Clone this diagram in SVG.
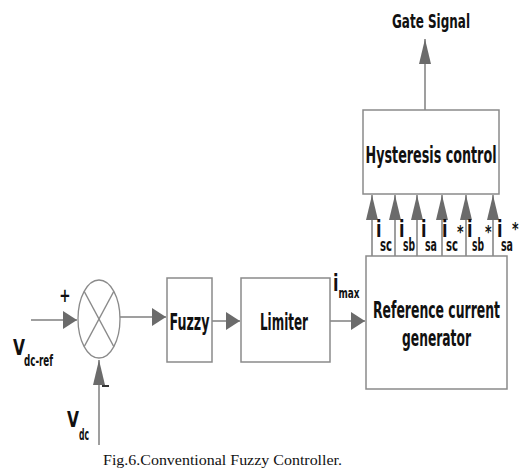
<svg xmlns="http://www.w3.org/2000/svg" width="521" height="470" viewBox="0 0 521 470">
<style>
.box{fill:#fff;stroke:#8a8a8a;stroke-width:1.5}
.ln{fill:none;stroke:#7f7f7f;stroke-width:1.5}
.t{font-family:"DejaVu Sans","Verdana",sans-serif;font-weight:bold;font-stretch:condensed;fill:#111}
.m{text-anchor:middle}
.cap{font-family:"Liberation Serif","Times New Roman",serif;font-size:15.5px;fill:#111}
</style>
<defs>
<marker id="ah" markerUnits="userSpaceOnUse" markerWidth="16" markerHeight="20" refX="14" refY="9" orient="auto">
<path d="M0,0 L14,9 L0,18 z" fill="#6b6b6b"/>
</marker>
<marker id="av" markerUnits="userSpaceOnUse" markerWidth="27" markerHeight="14" refX="25" refY="6" orient="auto">
<path d="M0,0 L25,6 L0,12 z" fill="#6b6b6b"/>
</marker>
</defs>
<rect width="521" height="470" fill="#fff"/>

<g id="connectors">
<line class="ln" x1="31" y1="320" x2="77" y2="320" marker-end="url(#ah)"/>
<line class="ln" x1="99" y1="445" x2="99" y2="360" marker-end="url(#av)"/>
<line class="ln" x1="120" y1="317" x2="166" y2="317" marker-end="url(#ah)"/>
<line class="ln" x1="212" y1="321" x2="240" y2="321" marker-end="url(#ah)"/>
<line class="ln" x1="330" y1="321" x2="365" y2="321" marker-end="url(#ah)"/>
<line class="ln" x1="425" y1="110" x2="425" y2="39" marker-end="url(#av)"/>
<line class="ln" x1="372" y1="256" x2="372" y2="195" marker-end="url(#av)"/>
<line class="ln" x1="395" y1="256" x2="395" y2="195" marker-end="url(#av)"/>
<line class="ln" x1="417" y1="256" x2="417" y2="195" marker-end="url(#av)"/>
<line class="ln" x1="442" y1="256" x2="442" y2="195" marker-end="url(#av)"/>
<line class="ln" x1="466" y1="256" x2="466" y2="195" marker-end="url(#av)"/>
<line class="ln" x1="493" y1="256" x2="493" y2="195" marker-end="url(#av)"/>
</g>

<g id="sum">
<ellipse cx="99" cy="319" rx="21" ry="39" fill="#fff" stroke="#8a8a8a" stroke-width="1.3"/>
<line x1="84.2" y1="291.4" x2="113.8" y2="346.6" stroke="#8a8a8a" stroke-width="1.3"/>
<line x1="113.8" y1="291.4" x2="84.2" y2="346.6" stroke="#8a8a8a" stroke-width="1.3"/>
<text class="t" font-size="15" transform="translate(65,302) scale(1,1.3)" text-anchor="middle">+</text>
<line x1="102" y1="386" x2="109" y2="386" stroke="#333" stroke-width="2"/>
</g>

<g id="vdcref">
<text class="t" font-size="15" transform="translate(13,355) scale(1,1.4)" textLength="12" lengthAdjust="spacingAndGlyphs">V</text>
<text class="t" font-size="9.5" transform="translate(24,366) scale(1,1.6)" textLength="29" lengthAdjust="spacingAndGlyphs">dc-ref</text>
</g>

<g id="vdc">
<text class="t" font-size="15" transform="translate(67,427) scale(1,1.4)" textLength="12" lengthAdjust="spacingAndGlyphs">V</text>
<text class="t" font-size="9.5" transform="translate(79,440) scale(1,1.6)" textLength="10" lengthAdjust="spacingAndGlyphs">dc</text>
</g>

<g id="fuzzy">
<rect class="box" x="167" y="278" width="45" height="84"/>
<text class="t m" font-size="13" transform="translate(189.5,330) scale(1,1.75)" textLength="40" lengthAdjust="spacingAndGlyphs">Fuzzy</text>
</g>

<g id="limiter">
<rect class="box" x="241" y="278" width="89" height="84"/>
<text class="t m" font-size="13" transform="translate(284,330) scale(1,1.75)" textLength="48" lengthAdjust="spacingAndGlyphs">Limiter</text>
</g>

<g id="imax">
<text class="t" font-size="14" transform="translate(333,291) scale(1,1.7)" textLength="5.5" lengthAdjust="spacingAndGlyphs">i</text>
<text class="t" font-size="9.5" transform="translate(338.5,298) scale(1,1.5)" textLength="21" lengthAdjust="spacingAndGlyphs">max</text>
</g>

<g id="refgen">
<rect class="box" x="366" y="256" width="141" height="133"/>
<text class="t m" font-size="13" transform="translate(436.5,318) scale(1,1.7)" textLength="127" lengthAdjust="spacingAndGlyphs">Reference current</text>
<text class="t m" font-size="13" transform="translate(436.5,346) scale(1,1.7)" textLength="69" lengthAdjust="spacingAndGlyphs">generator</text>
</g>

<g id="hysteresis">
<rect class="box" x="363" y="110" width="136" height="84"/>
<text class="t m" font-size="13" transform="translate(431,163) scale(1,1.7)" textLength="131" lengthAdjust="spacingAndGlyphs">Hysteresis control</text>
</g>

<g id="gate">
<text class="t m" font-size="12" transform="translate(431,28) scale(1,1.6)" textLength="78" lengthAdjust="spacingAndGlyphs">Gate Signal</text>
</g>

<g id="currents">
<text class="t" font-size="14" transform="translate(376,237) scale(1,1.7)" textLength="5.5" lengthAdjust="spacingAndGlyphs">i</text>
<text class="t" font-size="10.5" transform="translate(380,251) scale(1,1.6)" textLength="12" lengthAdjust="spacingAndGlyphs">sc</text>
<text class="t" font-size="14" transform="translate(399,237) scale(1,1.7)" textLength="5.5" lengthAdjust="spacingAndGlyphs">i</text>
<text class="t" font-size="10.5" transform="translate(403,251) scale(1,1.6)" textLength="12" lengthAdjust="spacingAndGlyphs">sb</text>
<text class="t" font-size="14" transform="translate(421,237) scale(1,1.7)" textLength="5.5" lengthAdjust="spacingAndGlyphs">i</text>
<text class="t" font-size="10.5" transform="translate(425,251) scale(1,1.6)" textLength="12" lengthAdjust="spacingAndGlyphs">sa</text>
<text class="t" font-size="14" transform="translate(442,237) scale(1,1.7)" textLength="5.5" lengthAdjust="spacingAndGlyphs">i</text>
<text class="t" font-size="10.5" transform="translate(446,251) scale(1,1.6)" textLength="12" lengthAdjust="spacingAndGlyphs">sc</text>
<text class="t" font-size="14" transform="translate(457,238) scale(1,1.3)">*</text>
<text class="t" font-size="14" transform="translate(467,237) scale(1,1.7)" textLength="5.5" lengthAdjust="spacingAndGlyphs">i</text>
<text class="t" font-size="10.5" transform="translate(472,251) scale(1,1.6)" textLength="12" lengthAdjust="spacingAndGlyphs">sb</text>
<text class="t" font-size="14" transform="translate(485,238) scale(1,1.3)">*</text>
<text class="t" font-size="14" transform="translate(497,237) scale(1,1.7)" textLength="5.5" lengthAdjust="spacingAndGlyphs">i</text>
<text class="t" font-size="10.5" transform="translate(501,251) scale(1,1.6)" textLength="12" lengthAdjust="spacingAndGlyphs">sa</text>
<text class="t" font-size="14" transform="translate(512,235) scale(1,1.3)">*</text>
</g>

<text class="cap" x="103" y="465" textLength="239" lengthAdjust="spacingAndGlyphs">Fig.6.Conventional Fuzzy Controller.</text>
</svg>
